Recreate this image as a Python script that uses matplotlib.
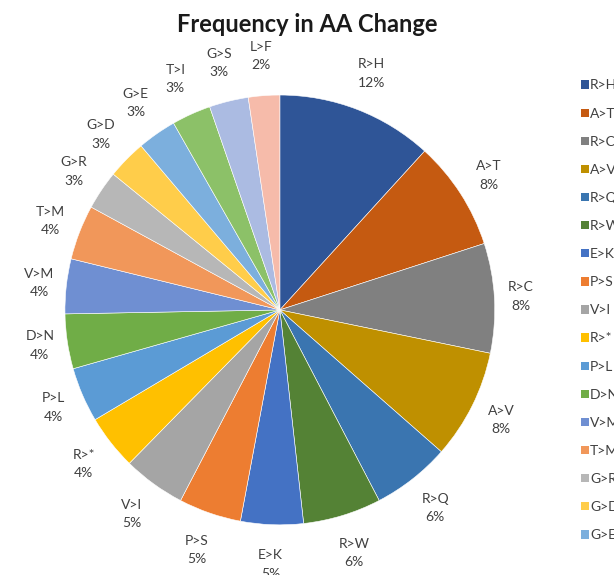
import numpy as np
import matplotlib
matplotlib.use("Agg")
import matplotlib.pyplot as plt
from matplotlib.patches import Patch

# Amino-acid change categories and number of occurrences
changes = ["R>H", "A>T", "R>C", "A>V", "R>Q", "R>W", "E>K", "P>S", "V>I", "R>*",
           "P>L", "D>N", "V>M", "T>M", "G>R", "G>D", "G>E", "T>I", "G>S", "L>F"]
counts = [20, 14, 14, 14, 10, 10, 8, 8, 8, 7, 7, 7, 7, 7, 5, 5, 5, 5, 5, 4]
colors = ["#2F5597", "#C55A11", "#808080", "#BF9000", "#3A75B0", "#548235",
          "#4472C4", "#ED7D31", "#A5A5A5", "#FFC000", "#5B9BD5", "#70AD47",
          "#6F8FD2", "#F1975A", "#B7B7B7", "#FFCD4A", "#7CAFDD", "#8CC168",
          "#ABBBE2", "#F6BBAA"]
# the legend only lists the first entries
n_legend = 17

plt.rcParams['font.family'] = ['Lato', 'DejaVu Sans']

total = sum(counts)
percents = [round(100 * c / total) for c in counts]

fig = plt.figure(figsize=(6.14, 5.75), dpi=100)
ax = fig.add_axes([0.0008, -0.025, 0.910, 0.972])

wedges, _ = ax.pie(counts, colors=colors, startangle=90, counterclock=False,
                   radius=1.0, wedgeprops=dict(edgecolor="white", linewidth=0.4))
ax.set_xlim(-1.3, 1.3)
ax.set_ylim(-1.3, 1.3)
ax.set_aspect("equal")
ax.axis("off")

# outside-end data labels, pushed a little further out at top and bottom
for w, name, p in zip(wedges, changes, percents):
    ang = np.deg2rad((w.theta1 + w.theta2) / 2)
    c, s = np.cos(ang), np.sin(ang)
    r = 1.12 + 0.065 * abs(s)
    ax.text(r * c, r * s, f"{name}\n{p}%",
            ha="center", va="center", fontsize=10, color="#404040",
            linespacing=1.65)

fig.text(0.5, 0.958, "Frequency in AA Change", ha="center", va="center",
         fontsize=17, fontweight="bold", color="#1a1a1a")

handles = [Patch(facecolor=c, edgecolor="none") for c in colors[:n_legend]]
fig.legend(handles, changes[:n_legend], loc="upper left",
           bbox_to_anchor=(0.926, 0.8835), frameon=False, fontsize=10,
           handlelength=0.55, handleheight=0.55, handletextpad=0.1,
           labelspacing=1.16, labelcolor="#404040")

fig.savefig("out.png", dpi=100)
